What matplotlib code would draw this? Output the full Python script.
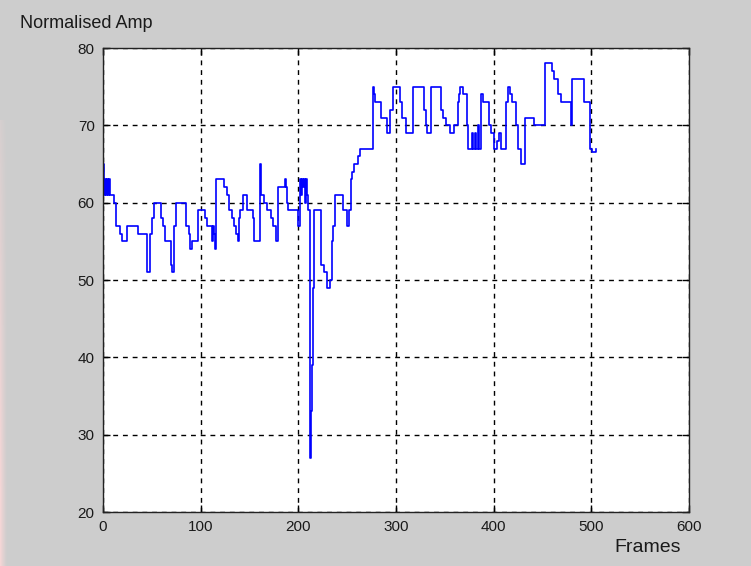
import matplotlib
matplotlib.use("Agg")
import matplotlib.pyplot as plt
import numpy as np

# Step breakpoints: frame at which each value begins
frames = [0, 1, 2, 3, 4, 5, 6, 7, 11, 13, 17, 19, 25, 36, 45, 48, 50, 52, 59, 61,
          63, 70, 71, 73, 75, 85, 88, 89, 91, 97, 104, 106, 112, 113, 114, 115, 116, 124, 127, 129,
          132, 134, 136, 138, 139, 140, 143, 147, 154, 155, 161, 162, 165, 168, 172, 174, 177, 179, 186, 187,
          188, 189, 200, 202, 203, 204, 205, 206, 207, 208, 209, 210, 212, 213, 214, 215, 216, 223, 226, 229,
          232, 234, 236, 238, 246, 250, 252, 254, 255, 257, 261, 263, 276, 277, 279, 285, 291, 294, 297, 304,
          306, 310, 317, 329, 331, 332, 336, 346, 348, 351, 355, 359, 363, 364, 366, 369, 373, 374, 378, 379,
          381, 382, 384, 385, 387, 389, 395, 397, 400, 403, 405, 407, 413, 415, 417, 419, 423, 425, 428, 432,
          441, 453, 460, 462, 466, 469, 479, 480, 493, 499, 501, 505]
amp = [65, 61, 63, 61, 63, 61, 63, 61, 60, 57, 56, 55, 57, 56, 51, 56, 58, 60, 58, 57,
       55, 52, 51, 57, 60, 57, 56, 54, 55, 59, 58, 57, 55, 57, 56, 54, 63, 62, 61, 59,
       58, 57, 56, 55, 58, 59, 61, 59, 58, 55, 65, 61, 60, 59, 58, 57, 55, 62, 63, 62,
       60, 59, 57, 63, 61, 63, 62, 63, 60, 63, 61, 59, 27, 33, 39, 49, 59, 52, 51, 49,
       50, 55, 57, 61, 59, 57, 59, 63, 64, 65, 66, 67, 75, 74, 73, 71, 69, 72, 75, 73,
       71, 69, 75, 72, 70, 69, 75, 72, 71, 70, 69, 70, 73, 74, 75, 74, 70, 67, 69, 67,
       69, 67, 70, 67, 74, 73, 70, 69, 67, 68, 69, 67, 73, 75, 74, 73, 70, 67, 65, 71,
       70, 78, 77, 76, 74, 73, 70, 76, 73, 67, 66.5, 67]

x_ticks = [0, 100, 200, 300, 400, 500, 600]
y_ticks = [20, 30, 40, 50, 60, 70, 80]
x_label = "Frames"
y_label = "Normalised Amp"

W, H = 751, 566
fig = plt.figure(figsize=(W / 100, H / 100), dpi=100)
fig.patch.set_facecolor("#cdcdcd")

# faint pinkish edge on the far left of the screenshot (fades out upwards)
edge = fig.add_axes([0, 0, 8 / W, 1 - 120 / H])
gx = np.linspace(1, 0, 8)[None, :] ** 1.3
gy = np.linspace(0, 1, 200)[:, None]
alpha = gx * np.clip(1.15 - gy, 0, 1) ** 0.8
rgb = np.ones((200, 8, 3))
rgb[..., 0] = 0.804 * (1 - alpha) + 0.96 * alpha
rgb[..., 1] = 0.804 * (1 - alpha) + 0.84 * alpha
rgb[..., 2] = 0.804 * (1 - alpha) + 0.84 * alpha
edge.imshow(rgb, aspect="auto", origin="lower", extent=(0, 1, 0, 1))
edge.set_axis_off()

ax = fig.add_axes([103 / W, 1 - 512 / H, (689 - 103) / W, (512 - 48) / H])
ax.set_facecolor("white")

ax.step(frames, amp, where="post", color="#0000ff", lw=1.2)

ax.set_xlim(0, 600)
ax.set_ylim(20, 80)
ax.set_xticks(x_ticks)
ax.set_yticks(y_ticks)
ax.grid(True, color="black", linestyle=(0, (3.5, 3.5)), linewidth=1.0)
ax.tick_params(direction="in", length=5, width=1, top=True, right=True,
               labelsize=11, labelcolor="#1a1a1a", pad=6)
for s in ax.spines.values():
    s.set_color("#222222")
    s.set_linewidth(1.0)
for lbl in ax.get_xticklabels() + ax.get_yticklabels():
    lbl.set_family("Liberation Sans")

fig.text(20 / W, 1 - 24 / H, y_label, ha="left", va="center", fontsize=13,
         family="Liberation Sans", color="#1a1a1a")
fig.text(648 / W, 1 - 548 / H, x_label, ha="center", va="center", fontsize=14,
         family="Liberation Sans", color="#1a1a1a")

fig.savefig("out.png", dpi=100, facecolor=fig.get_facecolor())
